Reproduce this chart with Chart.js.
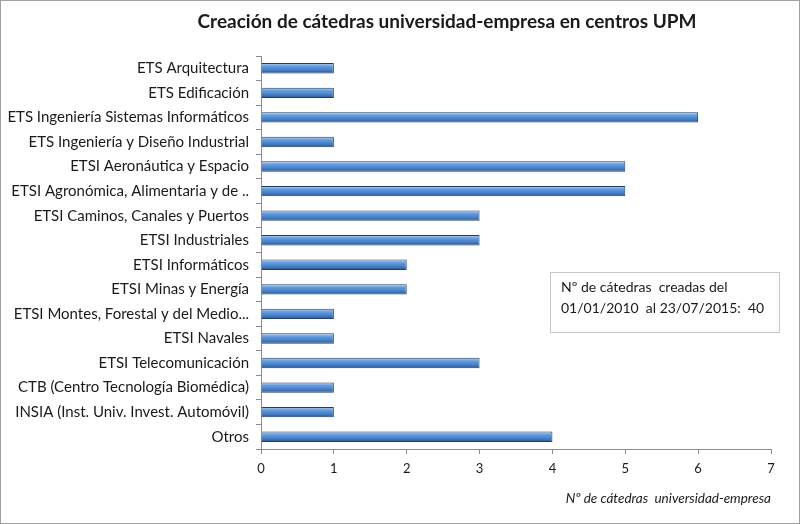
<!DOCTYPE html>
<html>
<head>
<meta charset="utf-8">
<script src="https://cdn.jsdelivr.net/npm/chart.js@4/dist/chart.umd.min.js"></script>
<style>
  html, body { margin: 0; padding: 0; background: #fff; }
  #wrap { width: 800px; height: 524px; position: relative; }
</style>
</head>
<body>
<div id="wrap"><canvas id="catChart"></canvas></div>
<script>
// DATA
const centros = [
    "ETS Arquitectura",
    "ETS Edificación",
    "ETS Ingeniería Sistemas Informáticos",
    "ETS Ingeniería y Diseño Industrial",
    "ETSI Aeronáutica y Espacio",
    "ETSI Agronómica, Alimentaria y de ..",
    "ETSI Caminos, Canales y Puertos",
    "ETSI Industriales",
    "ETSI Informáticos",
    "ETSI Minas y Energía",
    "ETSI Montes, Forestal y del Medio...",
    "ETSI Navales",
    "ETSI Telecomunicación",
    "CTB (Centro Tecnología Biomédica)",
    "INSIA (Inst. Univ. Invest. Automóvil)",
    "Otros"
];
const catedras = [1, 1, 6, 1, 5, 5, 3, 3, 2, 2, 1, 1, 3, 1, 1, 4];
const xTicks = [0, 1, 2, 3, 4, 5, 6, 7];
const chartTitle = "Creación de cátedras universidad-empresa en centros UPM";
const noteLines = ["Nº de cátedras  creadas del", "01/01/2010  al 23/07/2015:  40"];

const FONT = "Lato, 'Open Sans', sans-serif";
const BAR_PCT = 0.42;

// bar gradient, light on top, dark at the bottom
function barFill(ctx) {
    const chart = ctx.chart;
    const ys = chart.scales && chart.scales.y;
    if (!ys || !chart.chartArea) return "#4f81bd";
    const mid = ys.getPixelForValue(ctx.dataIndex);
    const half = ys.height / centros.length * BAR_PCT / 2;
    if (!isFinite(mid) || !isFinite(half) || half <= 0) return "#4f81bd";
    const g = chart.ctx.createLinearGradient(0, mid - half, 0, mid + half);
    g.addColorStop(0, "#b8d3f4");
    g.addColorStop(0.3, "#659ddf");
    g.addColorStop(0.7, "#447cc3");
    g.addColorStop(1, "#27548f");
    return g;
}

//TITLE, NOTE BOX + OUTER FRAME
const extras = {
    id: "extras",
    afterDraw(chart) {
        const c = chart.ctx;
        c.save();
        c.strokeStyle = "#a0a0a0";
        c.lineWidth = 1;
        c.strokeRect(0.5, 0.5, chart.width - 1, chart.height - 1);

        // title sits left of centre in the original
        c.fillStyle = "#1a1a1a";
        c.font = "bold 19px " + FONT;
        c.textAlign = "center";
        c.textBaseline = "middle";
        c.fillText(chartTitle, 447, 22);

        c.strokeStyle = "#c8c8c8";
        c.strokeRect(550.5, 272.5, 229, 60);
        c.font = "14px " + FONT;
        c.textAlign = "left";
        c.fillText(noteLines[0], 561, 287);
        c.fillText(noteLines[1], 561, 308);
        c.restore();
    }
};

new Chart(document.getElementById("catChart"), {
    type: "bar",
    data: {
        labels: centros,
        datasets: [{
            data: catedras,
            backgroundColor: barFill,
            borderColor: "#1f3f66",
            borderWidth: 1,
            borderSkipped: "left",
            barPercentage: BAR_PCT,
            categoryPercentage: 1
        }]
    },
    options: {
        indexAxis: "y",
        responsive: true,
        maintainAspectRatio: false,
        animation: false,
        layout: { padding: { top: 56, right: 29, bottom: 17, left: 0 } },
        plugins: {
            legend: { display: false },
            tooltip: { enabled: false },
            title: { display: false }
        },
        scales: {
            x: {
                min: 0,
                max: 7,
                afterBuildTicks: s => { s.ticks = xTicks.map(v => ({ value: v })); },
                ticks: { color: "#1a1a1a", font: { family: FONT, size: 13 }, padding: 7 },
                grid: { drawOnChartArea: false, drawTicks: true, tickLength: 5, color: "#8c8c8c" },
                border: { color: "#8c8c8c" },
                title: {
                    display: true,
                    align: "end",
                    text: "Nº de cátedras  universidad-empresa",
                    color: "#1a1a1a",
                    font: { family: FONT, size: 13.5, style: "italic" },
                    padding: { top: 12, bottom: 0 }
                },
                afterFit: s => { s.height = 58; }
            },
            y: {
                ticks: { color: "#1a1a1a", font: { family: FONT, size: 15 }, padding: 7 },
                grid: { drawOnChartArea: false, drawTicks: true, tickLength: 5, color: "#8c8c8c" },
                border: { color: "#8c8c8c" },
                afterFit: s => { s.width = 261; }
            }
        }
    },
    plugins: [extras]
});
</script>
</body>
</html>
